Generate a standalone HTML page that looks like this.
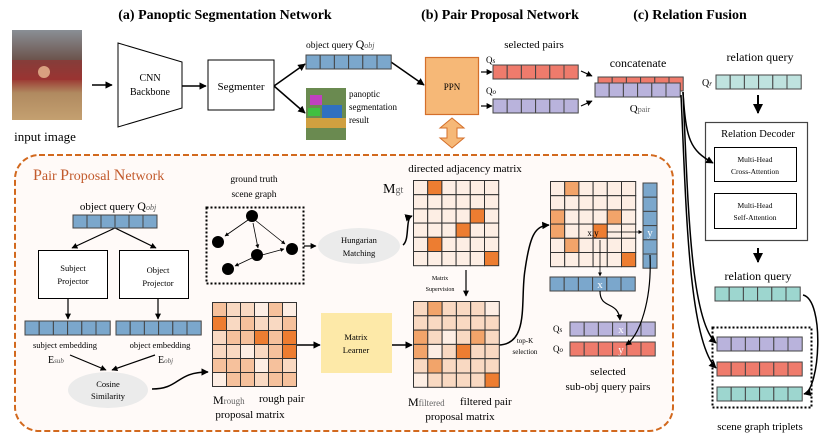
<!DOCTYPE html>
<html><head><meta charset="utf-8"><style>
body{margin:0;background:#fff}
svg{display:block;font-family:"Liberation Serif",serif}
</style></head><body>
<svg id="s" width="830" height="443" viewBox="0 0 830 443" xmlns="http://www.w3.org/2000/svg">
<defs>
<marker id="a" viewBox="0 0 10 10" refX="9" refY="5" markerWidth="5" markerHeight="5" orient="auto"><path d="M0,0L10,5L0,10z" fill="#000"/></marker>
<linearGradient id="img" x1="0" y1="0" x2="0" y2="1"><stop offset="0" stop-color="#8a8f95"/><stop offset="0.35" stop-color="#6a5048"/><stop offset="0.55" stop-color="#9c3a34"/><stop offset="0.7" stop-color="#b08a60"/><stop offset="1" stop-color="#c4a070"/></linearGradient>
</defs>
<g font-weight="bold" font-size="14" text-anchor="middle">
<text x="225" y="19">(a) Panoptic Segmentation Network</text>
<text x="500" y="19">(b) Pair Proposal Network</text>
<text x="690" y="19">(c) Relation Fusion</text>
</g>
<rect x="12" y="30" width="70" height="90" fill="url(#img)"/>
<rect x="12" y="60" width="70" height="20" fill="#9a3030" opacity=".6"/>
<circle cx="44" cy="72" r="6" fill="#d9a080"/>
<text x="45" y="141" font-size="13" text-anchor="middle">input image</text>
<line x1="92" y1="85" x2="112" y2="85" stroke="#000" stroke-width="1.5" marker-end="url(#a)"/>
<path d="M118,43 L182,62 L182,108 L118,127z" fill="#fff" stroke="#000"/>
<text x="150" y="81" font-size="10" text-anchor="middle">CNN</text>
<text x="150" y="95" font-size="10" text-anchor="middle">Backbone</text>
<line x1="182" y1="86" x2="206" y2="86" stroke="#000" stroke-width="1.5" marker-end="url(#a)"/>
<rect x="208" y="60" width="66" height="50" fill="#fff" stroke="#000"/>
<text x="241" y="90" font-size="11" text-anchor="middle">Segmenter</text>
<line x1="274" y1="86" x2="305" y2="64" stroke="#000" stroke-width="1.5" marker-end="url(#a)"/>
<line x1="274" y1="86" x2="305" y2="113" stroke="#000" stroke-width="1.5" marker-end="url(#a)"/>
<text x="306" y="48" font-size="9.5">object query <tspan font-size="12">Q</tspan><tspan font-size="8" font-style="italic" fill="#555">obj</tspan></text>
<rect x="306" y="88" width="40" height="52" fill="#6a8a50"/>
<rect x="310" y="95" width="12" height="10" fill="#c040c0"/><rect x="322" y="105" width="20" height="14" fill="#3070c0"/><rect x="306" y="118" width="40" height="10" fill="#d0a040"/><rect x="308" y="108" width="12" height="8" fill="#40c040"/>
<text x="349" y="97" font-size="9">panoptic</text><text x="349" y="110" font-size="9">segmentation</text><text x="349" y="123" font-size="9">result</text>
<line x1="391" y1="62" x2="424" y2="85" stroke="#000" stroke-width="1.5" marker-end="url(#a)"/>
<rect x="425.5" y="57.5" width="53" height="57" fill="#f6b877" stroke="#d46f2a" stroke-width="1.2"/>
<text x="452" y="90" font-size="9" text-anchor="middle">PPN</text>
<path d="M452,118 L464,128 L457,128 L457,138 L464,138 L452,148 L440,138 L447,138 L447,128 L440,128z" fill="#f6b877" stroke="#d46f2a"/>
<text x="534" y="48" font-size="11" text-anchor="middle">selected pairs</text>
<text x="486" y="63" font-size="9">Q<tspan font-size="7" font-style="italic">s</tspan></text>
<text x="486" y="94" font-size="9">Q<tspan font-size="7" font-style="italic">o</tspan></text>
<line x1="481" y1="72" x2="492" y2="72" stroke="#000" stroke-width="1.2" marker-end="url(#a)"/>
<line x1="481" y1="106" x2="492" y2="106" stroke="#000" stroke-width="1.2" marker-end="url(#a)"/>
<line x1="581" y1="71" x2="592" y2="76" stroke="#000" stroke-width="1.2" marker-end="url(#a)"/>
<line x1="581" y1="106" x2="592" y2="101" stroke="#000" stroke-width="1.2" marker-end="url(#a)"/>
<text x="638" y="67" font-size="12" text-anchor="middle">concatenate</text>
<text x="640" y="112" font-size="11" text-anchor="middle">Q<tspan font-size="8" fill="#666">pair</tspan></text>
<text x="760" y="61" font-size="12" text-anchor="middle">relation query</text>
<text x="702" y="86" font-size="10">Q<tspan font-size="7" font-style="italic">r</tspan></text>
<line x1="758" y1="95" x2="758" y2="113" stroke="#000" stroke-width="2" marker-end="url(#a)"/>
<rect x="705.5" y="122.5" width="102" height="118" fill="#fff" stroke="#444" stroke-width="1.2"/>
<text x="758" y="137" font-size="10.5" text-anchor="middle">Relation Decoder</text>
<rect x="714.5" y="147.5" width="82" height="34" fill="#fff" stroke="#000"/>
<text x="755" y="162" font-size="7.5" text-anchor="middle">Multi-Head</text><text x="755" y="174" font-size="7.5" text-anchor="middle">Cross-Attention</text>
<rect x="714.5" y="193.5" width="82" height="35" fill="#fff" stroke="#000"/>
<text x="755" y="208" font-size="7.5" text-anchor="middle">Multi-Head</text><text x="755" y="220" font-size="7.5" text-anchor="middle">Self-Attention</text>
<line x1="758" y1="248" x2="758" y2="262" stroke="#000" stroke-width="2" marker-end="url(#a)"/>
<text x="758" y="280" font-size="12" text-anchor="middle">relation query</text>
<rect x="712.5" y="327.5" width="99" height="80" fill="none" stroke="#000" stroke-width="2" stroke-dasharray="2,2"/>
<text x="760" y="430" font-size="11" text-anchor="middle">scene graph triplets</text>
<rect x="15" y="155" width="658" height="276" rx="24" fill="#fffaf8" stroke="#d2691e" stroke-width="2" stroke-dasharray="6,3"/>
<text x="33" y="180" font-size="14" fill="#c25a2c"><tspan font-size="16">P</tspan>air <tspan font-size="16">P</tspan>roposal <tspan font-size="16">N</tspan>etwork</text>
<text x="118" y="210" font-size="11" text-anchor="middle">object query <tspan font-size="12">Q</tspan><tspan font-size="8" font-style="italic" fill="#555">obj</tspan></text>
<line x1="115" y1="228" x2="72" y2="248" stroke="#000" stroke-width="1.2" marker-end="url(#a)"/>
<line x1="115" y1="228" x2="156" y2="248" stroke="#000" stroke-width="1.2" marker-end="url(#a)"/>
<rect x="38.5" y="250.5" width="69" height="48" fill="#fff" stroke="#000"/>
<text x="73" y="271" font-size="8.5" text-anchor="middle">Subject</text><text x="73" y="284" font-size="8.5" text-anchor="middle">Projector</text>
<rect x="119.5" y="250.5" width="69" height="48" fill="#fff" stroke="#000"/>
<text x="158" y="273" font-size="8.5" text-anchor="middle">Object</text><text x="158" y="286" font-size="8.5" text-anchor="middle">Projector</text>
<line x1="68" y1="299" x2="68" y2="319" stroke="#000" stroke-width="1.2" marker-end="url(#a)"/>
<line x1="158" y1="299" x2="158" y2="319" stroke="#000" stroke-width="1.2" marker-end="url(#a)"/>
<text x="65" y="348" font-size="8.5" text-anchor="middle">subject embedding</text>
<text x="160" y="348" font-size="8.5" text-anchor="middle">object embedding</text>
<text x="48" y="363" font-size="10">E<tspan font-size="7" font-style="italic" fill="#555">sub</tspan></text>
<text x="158" y="363" font-size="10">E<tspan font-size="7" font-style="italic" fill="#555">obj</tspan></text>
<line x1="70" y1="355" x2="106" y2="370" stroke="#000" stroke-width="1.2" marker-end="url(#a)"/>
<line x1="155" y1="355" x2="112" y2="370" stroke="#000" stroke-width="1.2" marker-end="url(#a)"/>
<ellipse cx="108" cy="390" rx="40" ry="18" fill="#ebebeb"/>
<text x="108" y="387" font-size="8.5" text-anchor="middle">Cosine</text><text x="108" y="399" font-size="8.5" text-anchor="middle">Similarity</text>
<path d="M152,389 C180,389 176,372 208,372" fill="none" stroke="#000" stroke-width="1.5" marker-end="url(#a)"/>
<text x="254" y="182" font-size="9.5" text-anchor="middle">ground truth</text><text x="254" y="197" font-size="9.5" text-anchor="middle">scene graph</text>
<rect x="206.5" y="207.5" width="97" height="76" fill="none" stroke="#000" stroke-width="2" stroke-dasharray="2,2"/>
<g stroke="#000" stroke-width=".8" marker-end="url(#a)">
<line x1="248" y1="220" x2="225" y2="236"/><line x1="253" y1="223" x2="258" y2="248"/><line x1="255" y1="220" x2="285" y2="244"/><line x1="262" y1="255" x2="284" y2="249"/><line x1="252" y1="258" x2="235" y2="266"/></g>
<g fill="#000"><circle cx="252" cy="216" r="6"/><circle cx="218" cy="242" r="6"/><circle cx="257" cy="255" r="6"/><circle cx="292" cy="249" r="6"/><circle cx="228" cy="269" r="6"/></g>
<line x1="304" y1="246" x2="316" y2="246" stroke="#000" stroke-width="1.2" marker-end="url(#a)"/>
<ellipse cx="359" cy="246" rx="41" ry="18" fill="#ebebeb"/>
<text x="359" y="243" font-size="8.5" text-anchor="middle">Hungarian</text><text x="359" y="256" font-size="8.5" text-anchor="middle">Matching</text>
<path d="M403,245 C410,240 405,218 412,216" fill="none" stroke="#000" stroke-width="1.5" marker-end="url(#a)"/>
<text x="465" y="172" font-size="11" text-anchor="middle">directed adjacency matrix</text>
<text x="383" y="193" font-size="14">M<tspan font-size="10" fill="#666">gt</tspan></text>
<text x="440" y="280" font-size="6" text-anchor="middle">Matrix</text><text x="440" y="291" font-size="6" text-anchor="middle">Supervision</text>
<line x1="466" y1="270" x2="466" y2="296" stroke="#000" stroke-width="1.2" marker-end="url(#a)"/>
<line x1="296" y1="345" x2="320" y2="345" stroke="#000" stroke-width="1.5" marker-end="url(#a)"/>
<rect x="321" y="313" width="71" height="60" fill="#fde9a8"/>
<text x="356" y="340" font-size="8.5" text-anchor="middle">Matrix</text><text x="356" y="353" font-size="8.5" text-anchor="middle">Learner</text>
<line x1="392" y1="345" x2="412" y2="345" stroke="#000" stroke-width="1.5" marker-end="url(#a)"/>
<text x="213" y="404" font-size="12">M<tspan font-size="9" fill="#666">rough</tspan></text>
<text x="259" y="402" font-size="11">rough pair</text>
<text x="250" y="418" font-size="11" text-anchor="middle">proposal matrix</text>
<text x="408" y="406" font-size="12">M<tspan font-size="9" fill="#666">filtered</tspan></text>
<text x="460" y="405" font-size="11">filtered pair</text>
<text x="460" y="420" font-size="11" text-anchor="middle">proposal matrix</text>
<text x="525" y="343" font-size="7" text-anchor="middle">top-K</text><text x="525" y="354" font-size="7" text-anchor="middle">selection</text>
<path d="M498,345 C530,345 520,300 525,270 C530,235 535,226 549,225" fill="none" stroke="#000" stroke-width="1.5" marker-end="url(#a)"/>
<text x="553" y="332" font-size="9">Q<tspan font-size="7" font-style="italic">s</tspan></text>
<text x="553" y="352" font-size="9">Q<tspan font-size="7" font-style="italic">o</tspan></text>
<text x="608" y="375" font-size="11" text-anchor="middle">selected</text>
<text x="608" y="390" font-size="11" text-anchor="middle">sub-obj query pairs</text>
<g id="mats"></g>
<g id="bars"></g>
<line x1="607" y1="232" x2="642" y2="232" stroke="#000" stroke-width=".8" marker-end="url(#a)"/>
<line x1="600" y1="240" x2="600" y2="276" stroke="#000" stroke-width=".8" marker-end="url(#a)"/>
<path d="M600,291 C600,310 618,300 620,320" fill="none" stroke="#000" stroke-width="1.2" marker-end="url(#a)"/>
<path d="M650,255 C652,300 640,335 626,345" fill="none" stroke="#000" stroke-width="1.2" marker-end="url(#a)"/>
<path d="M683,92 C686,140 690,150 713,163" fill="none" stroke="#000" stroke-width="1.5" marker-end="url(#a)"/>
<path d="M683,92 C688,200 690,320 716,343" fill="none" stroke="#000" stroke-width="1.5" marker-end="url(#a)"/>
<path d="M681,95 C686,200 688,340 716,368" fill="none" stroke="#000" stroke-width="1.5" marker-end="url(#a)"/>
<path d="M803,295 C825,300 820,390 804,394" fill="none" stroke="#000" stroke-width="1.5" marker-end="url(#a)"/>
</svg>
<script>
var NS="http://www.w3.org/2000/svg",S=document.getElementById('mats'),B=document.getElementById('bars');
function r(g,x,y,w,h,f,st){var e=document.createElementNS(NS,'rect');e.setAttribute('x',x);e.setAttribute('y',y);e.setAttribute('width',w);e.setAttribute('height',h);e.setAttribute('fill',f);e.setAttribute('stroke',st||'#333');e.setAttribute('stroke-width',1);g.appendChild(e);}
function t(g,x,y,s,c){var e=document.createElementNS(NS,'text');e.setAttribute('x',x);e.setAttribute('y',y);e.setAttribute('font-size',11);e.setAttribute('fill',c||'#fff');e.setAttribute('text-anchor','middle');e.textContent=s;g.appendChild(e);}
function bar(x,y,f,w,h){w=w||14.2;h=h||14;for(var i=0;i<6;i++)r(B,x+i*w,y,w,h,f,'#444');}
var blue='#7ba7cc',red='#ef7b6c',pur='#b9b3dc',teal='#9dd6cf';
bar(306,55,blue);
bar(493,65,red);bar(493,99,pur);
bar(598,77,red);bar(595,83,pur);
bar(716,75,'#bfe3df');
bar(73,215,blue,14,13);
bar(25,321,blue);bar(116,321,blue);
bar(715,287,teal);
bar(717,337,pur);bar(717,362,red);bar(717,387,teal);
bar(570,322,pur);bar(570,342,red);
bar(550,277,blue);
for(var i=0;i<6;i++)r(B,643,183+i*14.2,14,14.2,blue,'#444');
var C=['#fdeee4','#f9d9c2','#f6c19c','#ed7d31','#f2a46a'];
function mat(x,y,m,c){for(var i=0;i<6;i++)for(var j=0;j<6;j++)r(S,x+j*c,y+i*c,c,c,C[m[i][j]],'#333');}
var gt=[[0,3,0,0,0,0],[0,0,0,0,0,0],[0,0,0,0,3,0],[0,0,0,3,0,0],[0,3,0,0,0,0],[0,0,0,0,0,3]];
var rough=[[2,1,1,0,2,0],[3,1,2,1,1,2],[1,2,2,3,2,3],[1,1,0,1,2,3],[2,2,2,0,2,1],[0,2,2,1,2,2]];
var filt=[[1,4,1,1,1,0],[1,1,1,1,1,1],[4,1,0,1,4,1],[4,0,1,3,1,1],[1,4,1,1,1,1],[0,1,1,1,1,3]];
var sel=[[0,4,0,0,0,0],[0,0,0,0,0,0],[4,0,0,0,4,0],[4,0,0,3,0,0],[0,4,0,0,0,0],[0,0,0,0,0,3]];
mat(413.5,180.5,gt,14.2);mat(212.5,302.5,rough,14);mat(413.5,301.5,filt,14.3);mat(550.5,181.5,sel,14.2);
t(S,593,236,'x,y','#000');S.lastChild.setAttribute('font-size',9);
t(B,650,236,'y');t(B,600,288,'x');t(B,621,333,'x');t(B,621,353,'y');
</script>
</body></html>
